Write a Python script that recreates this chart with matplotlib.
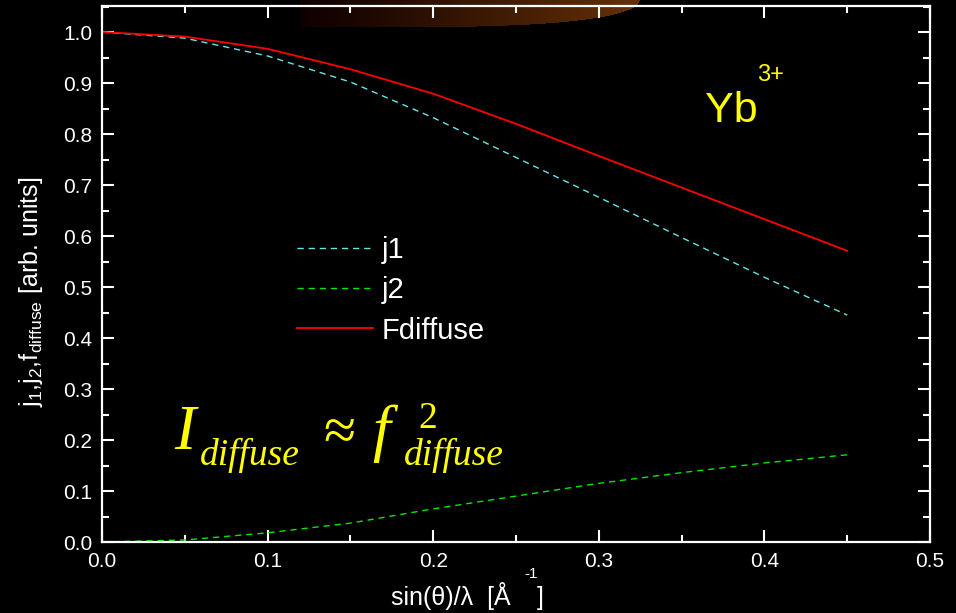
import numpy as np
import matplotlib
matplotlib.use("Agg")
import matplotlib.pyplot as plt
from matplotlib.ticker import MultipleLocator

# ---- data ----
s = [0.0, 0.05, 0.10, 0.15, 0.20, 0.25, 0.30, 0.35, 0.40, 0.45]
j1 = [1.000, 0.988, 0.953, 0.902, 0.832, 0.754, 0.676, 0.597, 0.519, 0.445]
j2 = [0.000, 0.004, 0.018, 0.037, 0.065, 0.090, 0.115, 0.136, 0.155, 0.171]
fdiffuse = [1.000, 0.991, 0.967, 0.927, 0.879, 0.820, 0.757, 0.695, 0.633, 0.571]
series_labels = ["j1", "j2", "Fdiffuse"]
xticks = [0.0, 0.1, 0.2, 0.3, 0.4, 0.5]
yticks = [0.0, 0.1, 0.2, 0.3, 0.4, 0.5, 0.6, 0.7, 0.8, 0.9, 1.0]

W, H = 956, 613
plt.rcParams['font.family'] = ['Liberation Sans', 'DejaVu Sans']
plt.rcParams['mathtext.fontset'] = 'custom'
plt.rcParams['mathtext.rm'] = 'Liberation Sans'

fig = plt.figure(figsize=(W / 100, H / 100), dpi=100, facecolor='black')

def fx(x):
    return x / W

def fy(y):
    return 1 - y / H

# decorative brown glow at the top (background)
gx0, gx1, gy1 = 300, 640, 28
bg = fig.add_axes([fx(gx0), fy(gy1), fx(gx1 - gx0), gy1 / H], zorder=0)
bg.set_axis_off()
nx, ny = 340, 28
xx = np.linspace(0, 1, nx)
yy = np.linspace(0, 1, ny)
X, Y = np.meshgrid(xx, yy)
edge = np.sqrt(np.clip(1 - X ** 4, 0, 1))
mask = (Y <= edge).astype(float)
t = X ** 1.1
img = np.zeros((ny, nx, 4))
img[..., 0] = 0.06 + t * 0.34
img[..., 1] = 0.00 + t * 0.19
img[..., 2] = 0.00 + t * 0.03
img[..., 3] = mask
bg.imshow(img, origin='upper', aspect='auto', extent=[0, 1, 0, 1])

ax = fig.add_axes([fx(102), fy(542), fx(930 - 102), (542 - 6) / H], zorder=1)
ax.set_facecolor('none')

ax.plot(s, j1, color='#66e6e6', lw=1.0, dashes=(4.5, 3.5), label=series_labels[0])
ax.plot(s, j2, color='#00e600', lw=1.0, dashes=(4.5, 3.5), label=series_labels[1])
ax.plot(s, fdiffuse, color='#ff0000', lw=1.3, label=series_labels[2])

ax.set_xlim(0, 0.5)
ax.set_ylim(0, 1.051)
ax.set_xticks(xticks)
ax.set_yticks(yticks)
ax.set_xticklabels([f"{v:.1f}" for v in xticks])
ax.set_yticklabels([f"{v:.1f}" for v in yticks])
ax.xaxis.set_minor_locator(MultipleLocator(0.05))
ax.yaxis.set_minor_locator(MultipleLocator(0.05))
ax.tick_params(which='both', direction='in', top=True, right=True, color='white',
               labelcolor='white', width=1.5, labelsize=15)
ax.tick_params(which='major', length=8.5, pad=7)
ax.tick_params(which='minor', length=5)
for sp in ax.spines.values():
    sp.set_color('white')
    sp.set_linewidth(1.6)

leg = ax.legend(loc='upper left', bbox_to_anchor=(fx(297), fy(236)),
                bbox_transform=fig.transFigure, frameon=False, fontsize=21,
                handlelength=2.6, handletextpad=0.3, labelspacing=0.42,
                borderpad=0, borderaxespad=0)
for txt in leg.get_texts():
    txt.set_color('white')

# axis labels
fig.text(fx(31), fy(292), r'j$_{\mathregular{1}}$,j$_{\mathregular{2}}$,f$_{\mathregular{diffuse}}$ [arb. units]',
         rotation=90, ha='center', va='center', color='white', fontsize=18)
fig.text(fx(391), fy(605), 'sin(θ)/λ  [Å', ha='left', va='baseline', color='white', fontsize=18)
fig.text(fx(524), fy(578), '-1', ha='left', va='baseline', color='white', fontsize=11)
fig.text(fx(537), fy(605), ']', ha='left', va='baseline', color='white', fontsize=18)

# Yb3+ annotation
yel = '#ffff00'
fig.text(fx(705), fy(122), 'Yb', color=yel, fontsize=31, va='baseline', ha='left')
fig.text(fx(757), fy(81), '3+', color=yel, fontsize=17, va='baseline', ha='left')

# formula I_diffuse ≈ f^2_diffuse
serif = ['Liberation Serif', 'DejaVu Serif']
fig.text(fx(174), fy(449), 'I', color=yel, fontsize=46, style='italic', family=serif, va='baseline')
fig.text(fx(200), fy(465), 'diffuse', color=yel, fontsize=27, style='italic', family=serif, va='baseline')
fig.text(fx(323), fy(449), '≈', color=yel, fontsize=42, family=serif, va='baseline')
fig.text(fx(372), fy(449), 'f', color=yel, fontsize=46, style='italic', family=serif, va='baseline')
fig.text(fx(418), fy(428), '2', color=yel, fontsize=27, family=serif, va='baseline')
fig.text(fx(404), fy(465), 'diffuse', color=yel, fontsize=27, style='italic', family=serif, va='baseline')

fig.savefig('out.png', dpi=100, facecolor='black')
